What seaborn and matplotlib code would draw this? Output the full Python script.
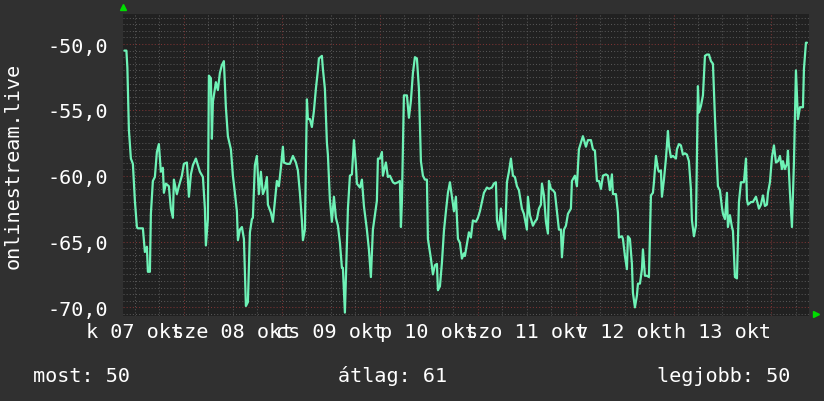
import matplotlib
matplotlib.use("Agg")
import matplotlib.pyplot as plt
import matplotlib.transforms as mtransforms
from matplotlib.ticker import MultipleLocator
import pandas as pd
import seaborn as sns

# ------------------------------
# Data (hours since 07 okt 00:00, value)
# ------------------------------
hours = [
    9.42, 9.91, 10.15, 10.52, 11.01, 11.50, 11.99, 12.48, 12.73, 13.95,
    14.44, 14.93, 15.18, 15.67, 15.91, 16.40, 16.89, 17.38, 17.87, 18.36,
    18.85, 19.10, 19.59, 20.32, 20.81, 21.30, 21.55, 22.28, 22.77, 23.51,
    24.00, 24.74, 25.23, 25.72, 26.21, 26.94, 27.43, 27.92, 28.66, 29.15,
    29.39, 29.88, 30.13, 30.62, 30.86, 31.11, 31.84, 32.33, 32.82, 33.31,
    33.80, 34.29, 34.78, 35.52, 36.01, 36.50, 36.99, 37.24, 37.73, 38.22,
    38.71, 39.20, 39.69, 40.18, 40.67, 40.91, 41.40, 41.89, 42.38, 42.87,
    43.36, 43.85, 44.34, 44.59, 45.32, 45.81, 46.06, 46.79, 47.28, 47.77,
    48.26, 48.51, 49.25, 49.98, 50.72, 51.45, 51.94, 52.43, 52.92, 53.17,
    53.66, 54.15, 54.39, 54.88, 55.37, 55.86, 56.35, 56.84, 57.09, 57.82,
    58.07, 58.56, 59.05, 59.29, 59.78, 60.27, 60.77, 61.26, 61.75, 62.24,
    62.73, 62.97, 63.46, 63.95, 64.20, 64.69, 65.18, 65.67, 66.16, 66.40,
    67.14, 67.63, 68.12, 68.85, 69.34, 69.83, 70.32, 70.81, 71.30, 71.55,
    72.04, 72.53, 72.77, 73.51, 74.00, 74.49, 75.23, 75.72, 76.45, 76.94,
    77.19, 77.43, 77.92, 78.66, 79.15, 79.64, 80.13, 80.62, 81.11, 81.60,
    82.09, 82.58, 83.07, 83.56, 83.80, 84.54, 85.03, 85.52, 86.01, 86.26,
    86.75, 87.24, 87.73, 88.22, 88.71, 89.20, 89.69, 90.18, 90.67, 91.16,
    91.65, 92.14, 92.63, 92.87, 93.36, 93.85, 94.34, 94.83, 95.57, 96.06,
    96.55, 97.04, 97.53, 98.27, 98.76, 99.49, 99.98, 100.47, 100.72, 101.21,
    101.70, 102.19, 102.68, 103.17, 103.66, 104.15, 104.64, 105.13, 105.62, 106.11,
    106.84, 107.33, 108.07, 108.31, 108.80, 109.54, 110.03, 110.52, 111.01, 111.50,
    111.75, 112.24, 112.73, 113.22, 113.46, 113.95, 114.44, 114.93, 115.42, 115.91,
    116.40, 116.65, 117.14, 117.63, 118.12, 118.85, 119.10, 119.83, 120.32, 120.81,
    121.30, 121.79, 122.53, 123.02, 123.76, 124.25, 124.74, 125.23, 125.72, 126.21,
    126.70, 127.43, 127.92, 128.41, 128.90, 129.15, 129.88, 130.37, 130.62, 131.35,
    131.60, 132.09, 132.58, 132.82, 133.31, 133.80, 134.05, 134.54, 135.03, 135.28,
    135.77, 136.26, 136.50, 136.99, 137.48, 137.97, 138.46, 138.95, 139.20, 139.69,
    140.18, 140.42, 140.91, 141.16, 141.65, 142.14, 142.63, 142.87, 143.36, 143.85,
    144.59, 144.83, 145.32, 145.81, 146.30, 146.79, 147.28, 147.77, 148.26, 148.51,
    149.00, 149.49, 149.98, 150.23, 150.72, 151.21, 151.70, 152.19, 152.68, 153.17,
    153.66, 154.15, 154.64, 154.88, 155.37, 155.86, 156.11, 156.60, 157.09, 157.33,
    157.82, 158.31, 158.56, 159.05, 159.54, 160.03, 160.52, 161.01, 161.25, 161.75,
    161.99, 162.24, 162.97, 163.46, 164.20, 164.69, 164.93, 165.42, 165.91, 166.40,
    166.89, 167.14, 167.63, 168.12, 168.61, 169.10, 169.59, 170.08, 170.57, 170.81,
    171.30, 171.79, 172.04, 172.53, 173.02, 173.51, 173.76, 174.00, 174.49, 174.98,
    175.72, 175.96, 176.45, 176.70,
]
values = [
    -50.5, -50.5, -51.8, -56.5, -58.7, -59.1, -61.9, -63.9, -64.0, -64.0,
    -65.8, -65.4, -67.3, -67.3, -62.9, -60.4, -60.1, -58.2, -57.6, -59.7,
    -59.4, -61.3, -60.6, -60.8, -62.5, -63.2, -60.3, -61.4, -60.8, -60.0,
    -59.1, -59.0, -61.6, -59.9, -59.2, -58.7, -59.2, -59.7, -60.1, -62.5,
    -65.3, -63.3, -52.4, -52.6, -57.2, -54.4, -52.9, -53.5, -52.2, -51.6,
    -51.3, -54.8, -57.0, -58.0, -60.0, -61.3, -62.7, -64.9, -64.1, -63.9,
    -64.8, -69.9, -69.6, -64.3, -63.3, -63.2, -59.2, -58.5, -61.4, -59.7,
    -61.4, -61.0, -60.1, -62.2, -62.8, -63.5, -62.7, -60.4, -60.8, -59.4,
    -57.8, -59.0, -59.1, -59.1, -58.5, -59.0, -59.6, -61.3, -63.4, -64.9,
    -64.1, -54.2, -55.7, -55.7, -56.3, -55.1, -53.4, -52.0, -51.1, -50.9,
    -51.9, -53.4, -57.5, -58.4, -61.8, -63.5, -61.6, -63.2, -63.8, -65.1,
    -67.0, -67.0, -70.4, -65.1, -62.5, -60.0, -59.9, -57.3, -59.2, -60.6,
    -60.9, -60.3, -62.3, -64.1, -65.6, -67.7, -64.1, -63.0, -61.9, -58.7,
    -58.7, -58.2, -60.0, -59.0, -60.1, -60.0, -60.5, -60.6, -60.5, -60.4,
    -63.9, -62.0, -53.9, -53.9, -55.6, -54.3, -52.2, -51.0, -51.1, -53.4,
    -58.9, -60.0, -60.3, -60.3, -64.8, -66.3, -67.5, -66.8, -66.7, -68.7,
    -68.4, -66.6, -64.2, -62.7, -61.3, -60.5, -61.6, -62.7, -61.6, -64.8,
    -65.1, -66.3, -65.9, -66.1, -65.2, -64.3, -64.7, -63.4, -63.5, -63.2,
    -62.7, -62.0, -61.3, -60.9, -61.0, -60.9, -60.6, -60.5, -63.4, -64.1,
    -62.5, -64.2, -64.8, -60.5, -59.7, -58.7, -60.0, -60.1, -60.8, -61.1,
    -62.5, -62.9, -64.1, -61.6, -63.0, -63.8, -63.5, -63.3, -62.5, -62.2,
    -60.6, -61.5, -63.5, -64.4, -60.4, -61.0, -61.1, -61.3, -62.7, -64.1,
    -64.1, -66.2, -64.1, -63.8, -62.9, -62.5, -60.4, -60.0, -60.8, -58.0,
    -57.5, -57.0, -57.8, -57.3, -57.3, -58.0, -58.1, -60.4, -60.4, -61.0,
    -60.0, -59.9, -60.0, -61.1, -59.9, -61.4, -61.4, -62.8, -64.7, -64.6,
    -64.8, -66.1, -67.1, -64.6, -64.8, -66.7, -68.9, -70.0, -69.1, -68.2,
    -68.2, -67.1, -65.6, -67.6, -67.6, -67.7, -61.5, -61.3, -60.5, -58.5,
    -59.5, -59.7, -59.6, -61.6, -60.3, -58.7, -56.6, -57.7, -58.6, -58.5,
    -58.7, -58.0, -57.6, -57.7, -58.4, -58.3, -58.4, -58.9, -61.0, -63.4,
    -64.6, -63.8, -53.2, -55.2, -54.7, -53.9, -50.9, -50.8, -50.8, -51.3,
    -51.5, -55.6, -59.0, -60.8, -61.1, -62.4, -62.9, -63.3, -61.3, -63.9,
    -63.0, -63.9, -64.2, -67.7, -67.8, -62.0, -60.5, -60.5, -60.5, -58.7,
    -61.8, -62.2, -62.0, -62.0, -61.6, -62.2, -62.5, -62.2, -61.5, -62.3,
    -62.2, -61.3, -60.5, -58.6, -57.7, -59.0, -58.9, -58.5, -59.5, -58.9,
    -59.5, -59.1, -58.1, -61.3, -63.9, -59.0, -55.6, -52.0, -55.7, -54.8,
    -54.8, -51.9, -49.9, -49.9,
]

day_labels = ["k 07 okt", "sze 08 okt", "cs 09 okt", "p 10 okt",
              "szo 11 okt", "v 12 okt", "h 13 okt"]
day_noons = [12, 36, 60, 84, 108, 132, 156]
ytick_values = [-70, -65, -60, -55, -50]
ytick_labels = ["-70,0", "-65,0", "-60,0", "-55,0", "-50,0"]
legend_texts = ["most: 50", "átlag: 61", "legjobb: 50"]
y_title = "onlinestream.live"

df = pd.DataFrame({"hour": hours, "value": values})

# ------------------------------
# Style
# ------------------------------
BG = "#303030"
PLOT_BG = "#212121"
LINE = "#6ef2b6"
sns.set_style("dark", {"axes.facecolor": PLOT_BG, "figure.facecolor": BG})
plt.rcParams["font.family"] = ["DejaVu Sans Mono"]
plt.rcParams["font.size"] = 14.5
plt.rcParams["text.color"] = "white"

fig = plt.figure(figsize=(8.24, 4.02), dpi=100)
W, H = 824, 402
left, right, top, bottom = 123.5, 809, 15, 316.5
ax = fig.add_axes([left / W, 1 - bottom / H, (right - left) / W, (bottom - top) / H])

sns.lineplot(data=df, x="hour", y="value", ax=ax, color=LINE, linewidth=1.6,
             estimator=None, sort=False, zorder=3)

ax.set_xlim(9.2, 177.2)
ax.set_ylim(-70.62, -47.72)

# grid like rrdtool
ax.xaxis.set_major_locator(MultipleLocator(24))
ax.xaxis.set_minor_locator(MultipleLocator(6))
ax.yaxis.set_minor_locator(MultipleLocator(0.5))
ax.set_yticks(ytick_values)
ax.set_yticklabels(ytick_labels)
ax.grid(which="major", color="#7c3434", linestyle=(0, (1, 2)), linewidth=0.75)
ax.grid(which="minor", color="#555555", linestyle=(0, (1, 2)), linewidth=0.75)
ax.set_axisbelow(True)
ax.tick_params(axis="x", which="both", length=0, labelbottom=False)
ax.tick_params(axis="y", which="both", length=0, pad=11, colors="white")
for s in ax.spines.values():
    s.set_visible(False)
ax.set_xlabel("")
ax.set_ylabel("")

# day labels centred at noon
trans = mtransforms.blended_transform_factory(ax.transData, ax.transAxes)
for h, lab in zip(day_noons, day_labels):
    ax.text(h, -21.5 / (bottom - top), lab, transform=trans, ha="center",
            va="baseline", color="white", clip_on=False)

# arrows
off_up = mtransforms.ScaledTranslation(0, 5 / 72, fig.dpi_scale_trans)
off_right = mtransforms.ScaledTranslation(5 / 72, 1 / 72, fig.dpi_scale_trans)
ax.plot([0], [1], marker="^", markersize=4.5, color="#00dd00",
        transform=ax.transAxes + off_up, clip_on=False)
ax.plot([1], [0], marker=">", markersize=4.5, color="#00dd00",
        transform=ax.transAxes + off_right, clip_on=False)

# vertical title and summary line
fig.text(13 / W, 1 - 165.5 / H, y_title, rotation=90, ha="center", va="center")
fig.text(33 / W, 1 - 382 / H, legend_texts[0], ha="left", va="baseline")
fig.text(392.5 / W, 1 - 382 / H, legend_texts[1], ha="center", va="baseline")
fig.text(790 / W, 1 - 382 / H, legend_texts[2], ha="right", va="baseline")

fig.savefig("out.png", dpi=100, facecolor=BG)
